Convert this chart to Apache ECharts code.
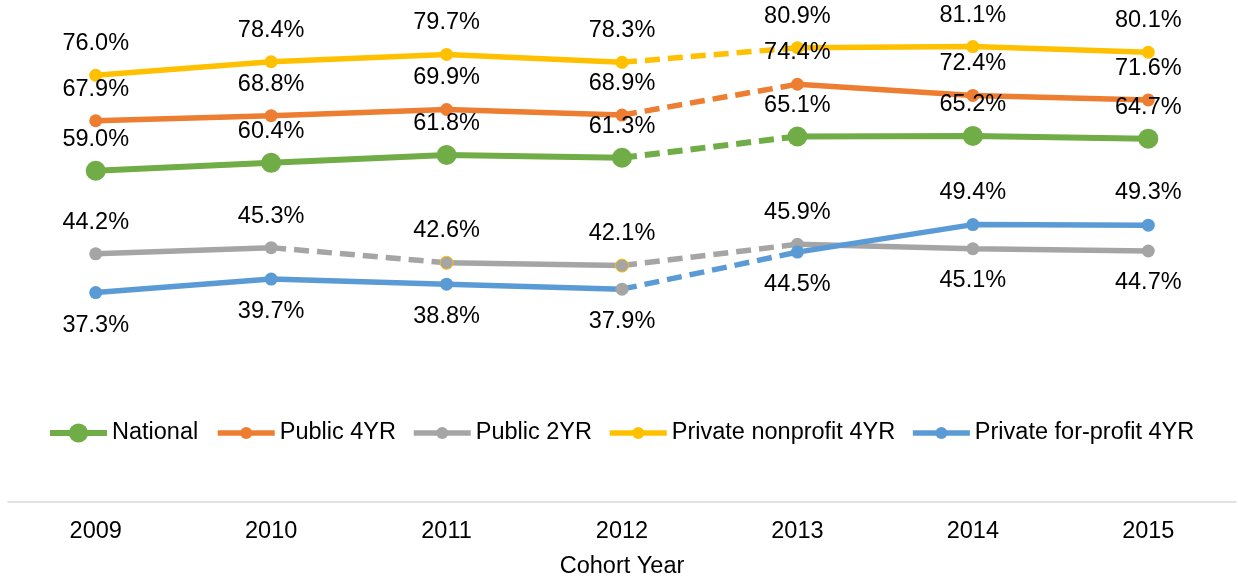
<!DOCTYPE html>
<html><head><meta charset="utf-8">
<script src="https://cdn.jsdelivr.net/npm/echarts@6/dist/echarts.min.js"></script>
<style>html,body{margin:0;padding:0;background:#fff}#c{width:1238px;height:584px}</style>
</head><body><div id="c"></div>
<script>
// ---- data ----
const years = ['2009', '2010', '2011', '2012', '2013', '2014', '2015'];
const national = [59.0, 60.4, 61.8, 61.3, 65.1, 65.2, 64.7];
const public4 = [67.9, 68.8, 69.9, 68.9, 74.4, 72.4, 71.6];
const public2 = [44.2, 45.3, 42.6, 42.1, 45.9, 45.1, 44.7];
const privNonprofit = [76.0, 78.4, 79.7, 78.3, 80.9, 81.1, 80.1];
const privForprofit = [37.3, 39.7, 38.8, 37.9, 44.5, 49.4, 49.3];
const seriesNames = ['National', 'Public 4YR', 'Public 2YR', 'Private nonprofit 4YR', 'Private for-profit 4YR'];
const axisTitle = 'Cohort Year';

// ---- styling ----
const FONT = '"Liberation Sans", Arial, Helvetica, sans-serif';
const FS = 23.5;
const groups = [
  { values: national, color: '#70ad47', size: 20, width: 6, dist: 9, below: [], dashed: [3] },
  { values: public4, color: '#ed7d31', size: 13, width: 5.5, dist: 13, below: [], dashed: [3] },
  { values: public2, color: '#a5a5a5', size: 13, width: 5.5, dist: 13, below: [5, 6], dashed: [1, 3],
    pointStyle: { 2: { borderColor: '#ffc000', borderWidth: 1 }, 3: { borderColor: '#ffc000', borderWidth: 1 } } },
  { values: privNonprofit, color: '#ffc000', size: 13, width: 5.5, dist: 13, below: [], dashed: [3] },
  { values: privForprofit, color: '#5b9bd5', size: 13, width: 5.5, dist: 14, below: [0, 1, 2, 3, 4], dashed: [3],
    pointStyle: { 3: { color: '#a5a5a5' } } }
];

const series = [];
groups.forEach((g, gi) => {
  const name = seriesNames[gi];
  const runs = [];
  for (let i = 0; i < g.values.length - 1; i++) {
    const dashed = g.dashed.includes(i);
    const last = runs[runs.length - 1];
    if (last && last.dashed === dashed) last.to = i + 1;
    else runs.push({ from: i, to: i + 1, dashed });
  }
  runs.sort((a, b) => (a.dashed === b.dashed ? 0 : a.dashed ? 1 : -1));
  runs.forEach(r => {
    series.push({
      type: 'line', name, color: g.color,
      data: g.values.map((v, i) => (i >= r.from && i <= r.to ? v : null)),
      showSymbol: false, symbol: 'circle', connectNulls: false, silent: true,
      lineStyle: { width: g.width, color: g.color, type: r.dashed ? [15, 8] : 'solid' },
      z: 2
    });
  });
  series.push({
    type: 'line', name, color: g.color, silent: true,
    data: g.values.map((v, i) => {
      const item = { value: v };
      if (g.below.includes(i)) item.label = { position: 'bottom' };
      if (g.pointStyle && g.pointStyle[i]) item.itemStyle = g.pointStyle[i];
      return item;
    }),
    symbol: 'circle', symbolSize: g.size, showSymbol: true,
    lineStyle: { width: 0, opacity: 0 },
    itemStyle: { color: g.color, opacity: 1 },
    label: {
      show: true, position: 'top', distance: g.dist,
      fontSize: FS, fontFamily: FONT, color: '#000',
      formatter: p => p.value.toFixed(1) + '%'
    },
    z: 3
  });
});

const legendText = { fontSize: FS, fontFamily: FONT, color: '#000' };
const option = {
  animation: false,
  backgroundColor: '#fff',
  grid: { left: 8, right: 2, top: 0, bottom: 72 },
  legend: [
    { data: [seriesNames[0]], left: 47, top: 421, padding: 0, itemWidth: 57, itemHeight: 24, selectedMode: false,
      textStyle: legendText, lineStyle: { width: 6, opacity: 1, type: 'solid' } },
    { data: seriesNames.slice(1), left: 215, top: 421, padding: 0, itemWidth: 57, itemHeight: 15, itemGap: 15, selectedMode: false,
      textStyle: legendText, lineStyle: { width: 5.5, opacity: 1, type: 'solid' } }
  ],
  xAxis: {
    type: 'category', data: years, boundaryGap: true,
    axisLine: { lineStyle: { color: '#d9d9d9', width: 1.5 } },
    axisTick: { show: false },
    axisLabel: { fontSize: FS, fontFamily: FONT, color: '#000', margin: 18 },
    name: axisTitle, nameLocation: 'middle', nameGap: 53,
    nameTextStyle: { fontSize: FS, fontFamily: FONT, color: '#000' }
  },
  yAxis: { type: 'value', min: 0, max: 89.4, show: false },
  series
};
const chart = echarts.init(document.getElementById('c'), null, { renderer: 'canvas' });
chart.setOption(option);
</script>
</body></html>
